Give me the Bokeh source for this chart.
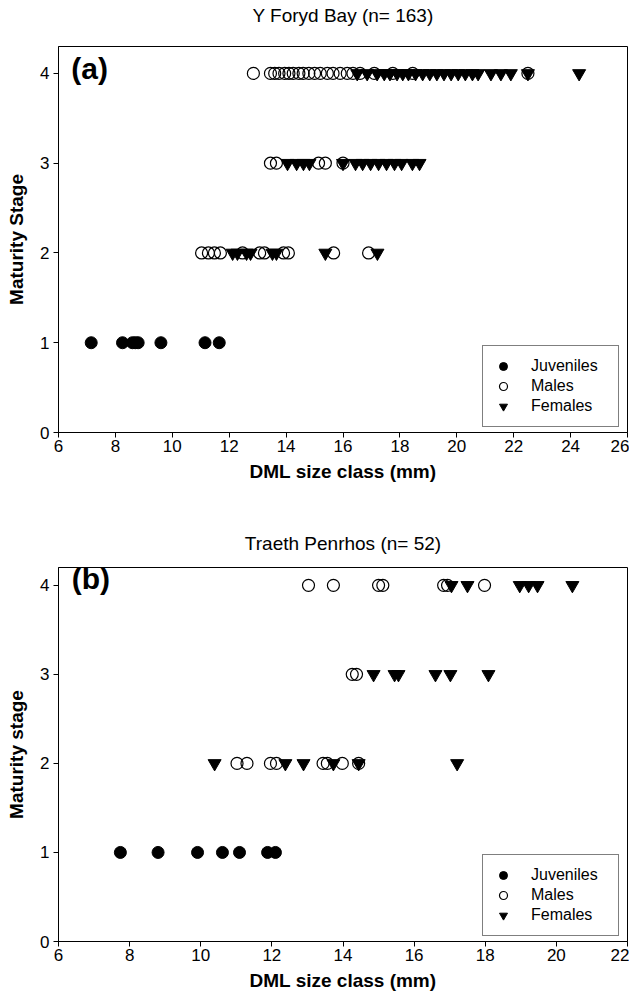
from bokeh.plotting import figure
from bokeh.layouts import column
from bokeh.models import Label, Title, Legend, LegendItem, FixedTicker, Range1d
from bokeh.embed import file_html
from bokeh.resources import INLINE

FONT = "Liberation Sans"

# ---------------- Panel (a): Y Foryd Bay ----------------
a_juv_x = [7.15, 8.25, 8.6, 8.7, 8.8, 9.6, 11.15, 11.65]
a_juv_y = [1, 1, 1, 1, 1, 1, 1, 1]

a_male_x = [11.03, 11.27, 11.48, 11.69, 12.47, 13.07, 13.24, 13.91, 14.08, 15.67, 16.9,
            13.45, 13.66, 15.14, 15.38, 16.0,
            12.85, 13.45, 13.6, 13.75, 13.95, 14.1, 14.25, 14.45, 14.6, 14.8, 15.0, 15.2,
            15.45, 15.65, 15.9, 16.15, 16.35, 16.6, 17.1, 17.75, 18.45, 22.5]
a_male_y = [2] * 11 + [3] * 5 + [4] * 22

a_fem_x = [12.12, 12.29, 12.61, 12.75, 13.52, 13.66, 15.38, 17.21,
           14.05, 14.37, 14.61, 14.82, 16.0, 16.44, 16.69, 16.97, 17.25, 17.53, 17.81,
           18.06, 18.44, 18.69,
           16.5, 16.85, 17.2, 17.45, 17.65, 17.9, 18.1, 18.3, 18.55, 18.8, 19.05, 19.3,
           19.55, 19.8, 20.05, 20.3, 20.55, 20.75, 21.2, 21.55, 21.9, 22.5, 24.3]
a_fem_y = [2] * 8 + [3] * 14 + [4] * 23

# ---------------- Panel (b): Traeth Penrhos ----------------
b_juv_x = [7.74, 8.8, 9.91, 10.61, 11.09, 11.88, 12.1]
b_juv_y = [1, 1, 1, 1, 1, 1, 1]

b_male_x = [11.02, 11.3, 11.96, 12.13, 13.44, 13.56, 13.98, 14.44,
            14.26, 14.38,
            13.03, 13.73, 15.0, 15.12, 16.83, 16.94, 17.98]
b_male_y = [2] * 8 + [3] * 2 + [4] * 7

b_fem_x = [10.39, 12.38, 12.89, 13.73, 14.44, 17.21,
           14.86, 15.45, 15.56, 16.6, 17.02, 18.09,
           17.05, 17.5, 18.97, 19.22, 19.47, 20.45]
b_fem_y = [2] * 6 + [3] * 6 + [4] * 6

legend_labels = ["Juveniles", "Males", "Females"]


def make_panel(title, letter, ylabel, juv, male, fem, xmax, xticks, ytop,
               height, border_top, border_bottom, spacer, letter_xy):
    p = figure(width=629, height=height, output_backend="svg", toolbar_location=None,
               x_range=Range1d(6, xmax), y_range=Range1d(0, ytop),
               min_border_left=58, min_border_right=2,
               min_border_top=border_top, min_border_bottom=border_bottom)
    p.grid.visible = False
    p.outline_line_color = "black"
    p.outline_line_width = 1
    p.background_fill_color = "white"
    p.border_fill_color = "white"
    for ax in (p.xaxis[0], p.yaxis[0]):
        ax.axis_line_color = "black"
        ax.major_tick_line_color = "black"
        ax.major_tick_out = 5
        ax.major_tick_in = 0
        ax.minor_tick_line_color = None
        ax.major_label_text_font = FONT
        ax.major_label_text_font_size = "17px"
        ax.major_label_text_color = "black"
        ax.axis_label_text_font = FONT
        ax.axis_label_text_font_size = "19px"
        ax.axis_label_text_font_style = "bold"
        ax.axis_label_text_color = "black"
    p.xaxis.ticker = FixedTicker(ticks=xticks)
    p.yaxis.ticker = FixedTicker(ticks=[0, 1, 2, 3, 4])
    p.xaxis.axis_label = "DML size class (mm)"
    p.yaxis.axis_label = ylabel
    p.xaxis.major_label_standoff = 2
    p.xaxis.axis_label_standoff = 6
    p.yaxis.major_label_standoff = 4
    p.yaxis.axis_label_standoff = 10

    rf = p.scatter(fem[0], fem[1], marker="inverted_triangle", size=13,
                   fill_color="black", line_color="black")
    rm = p.scatter(male[0], male[1], marker="circle", size=12,
                   fill_alpha=0, line_color="black", line_width=1.2)
    rj = p.scatter(juv[0], juv[1], marker="circle", size=12,
                   fill_color="black", line_color="black")

    leg = Legend(items=[LegendItem(label=legend_labels[0], renderers=[rj]),
                        LegendItem(label=legend_labels[1], renderers=[rm]),
                        LegendItem(label=legend_labels[2], renderers=[rf])],
                 location=(424, 5), margin=0,
                 border_line_color="black", border_line_width=1,
                 background_fill_alpha=1, padding=10, spacing=0,
                 label_text_font=FONT, label_text_font_size="16px",
                 label_text_color="black", glyph_width=20, glyph_height=20,
                 label_standoff=18, label_width=77, label_height=20)
    p.add_layout(leg, "center")

    # spacer between the frame and the title, then the title itself
    p.add_layout(Title(text=" ", text_font_size="2px", standoff=spacer), "above")
    p.add_layout(Title(text=title, align="center", text_font=FONT,
                       text_font_size="19px", text_font_style="normal",
                       text_color="black", standoff=0), "above")

    p.add_layout(Label(x=letter_xy[0], y=letter_xy[1], text=letter, text_font=FONT,
                       text_font_size="30px", text_font_style="bold",
                       text_baseline="middle", text_color="black"))
    return p


pa = make_panel("Y Foryd Bay (n= 163)", "(a)", "Maturity Stage",
                (a_juv_x, a_juv_y), (a_male_x, a_male_y), (a_fem_x, a_fem_y),
                26, [6, 8, 10, 12, 14, 16, 18, 20, 22, 24, 26], 4.3,
                500, 46, 68, 17, (6.45, 4.05))
pb = make_panel("Traeth Penrhos (n= 52)", "(b)", "Maturity stage",
                (b_juv_x, b_juv_y), (b_male_x, b_male_y), (b_fem_x, b_fem_y),
                22, [6, 8, 10, 12, 14, 16, 18, 20, 22], 4.2,
                495, 67, 54, 10, (6.37, 4.08))

layout = column(pa, pb, spacing=0)
open("out.html", "w").write(file_html(layout, INLINE))
